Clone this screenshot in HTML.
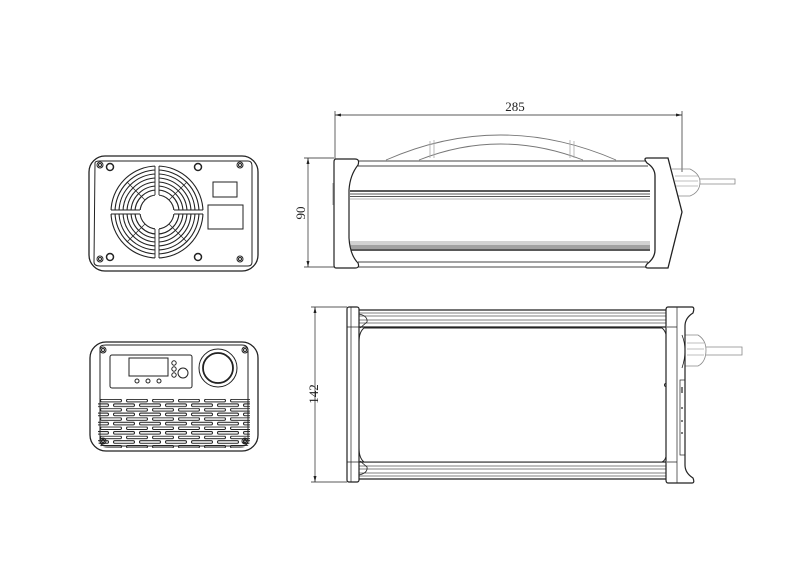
<!DOCTYPE html>
<html><head><meta charset="utf-8"><style>
html,body{margin:0;padding:0;background:#fff;}
svg{display:block;}
text{font-family:"Liberation Serif",serif;fill:#222;}
</style></head><body>
<svg width="800" height="566" viewBox="0 0 800 566" xmlns="http://www.w3.org/2000/svg">
<defs>
<pattern id="slots" x="100" y="399" width="26" height="9.2" patternUnits="userSpaceOnUse">
<rect x="0.5" y="0.3" width="21" height="2.6" rx="1.3" fill="none" stroke="#222" stroke-width="1"/>
<rect x="13.5" y="4.9" width="21" height="2.6" rx="1.3" fill="none" stroke="#222" stroke-width="1"/>
<rect x="-12.5" y="4.9" width="21" height="2.6" rx="1.3" fill="none" stroke="#222" stroke-width="1"/>
</pattern>
<clipPath id="slotclip"><path d="M98 398 H250 V440 Q250 448 240 448 H108 Q98 448 98 440 Z"/></clipPath>
</defs>
<g fill="none" stroke="#222" stroke-width="1">

<!-- ===== Rear view (fan) ===== -->
<rect x="89" y="156" width="169" height="115" rx="16" stroke-width="1.3"/>
<path d="M95 163 Q95 161 100 161 L248 161 Q252 161 252 166 L252 262 Q252 266 248 266 L100 266 Q94 266 94 262 Z"/>
<g stroke-width="1.1">
<circle cx="157" cy="212" r="46"/><circle cx="157" cy="212" r="42"/><circle cx="157" cy="212" r="38"/>
<circle cx="157" cy="212" r="34"/><circle cx="157" cy="212" r="30"/><circle cx="157" cy="212" r="26"/>
<circle cx="157" cy="212" r="22"/><circle cx="157" cy="212" r="17"/>
</g>
<rect x="155" y="164" width="4" height="96" fill="#fff" stroke="none"/>
<rect x="109" y="210" width="96" height="4" fill="#fff" stroke="none"/>
<path d="M155 166 V195 M159 166 V195 M155 229 V258 M159 229 V258 M111 210 H140 M111 214 H140 M174 210 H203 M174 214 H203" stroke-width="0.9"/>
<path d="M127 182 L145 200 M187 182 L169 200 M127 242 L145 224 M187 242 L169 224" stroke-width="0.7"/>
<rect x="213" y="182" width="24" height="15"/>
<rect x="208" y="205" width="35" height="24"/>
<circle cx="110" cy="167" r="3.5" stroke-width="1.5"/><circle cx="198" cy="167" r="3.5" stroke-width="1.5"/>
<circle cx="110" cy="257" r="3.5" stroke-width="1.5"/><circle cx="198" cy="257" r="3.5" stroke-width="1.5"/>
<circle cx="100" cy="165" r="3"/><circle cx="100" cy="165" r="1.5"/>
<circle cx="240" cy="165" r="3"/><circle cx="240" cy="165" r="1.5"/>
<circle cx="100" cy="259" r="3"/><circle cx="100" cy="259" r="1.5"/>
<circle cx="240" cy="259" r="3"/><circle cx="240" cy="259" r="1.5"/>

<!-- ===== Front view (panel) ===== -->
<rect x="90" y="342" width="168" height="109" rx="16" stroke-width="1.3"/>
<path d="M100 348 Q100 345 106 345 L242 345 Q248 345 248 351 L248 440 Q248 446 242 446 L106 446 Q100 446 100 440 Z"/>
<rect x="110" y="355" width="82" height="33" rx="2"/>
<rect x="129" y="358" width="39" height="18"/>
<circle cx="137" cy="381" r="2"/><circle cx="148" cy="381" r="2"/><circle cx="159" cy="381" r="2"/>
<circle cx="174" cy="363" r="2.2"/><circle cx="174" cy="369" r="2.2"/><circle cx="174" cy="375" r="2.2"/>
<circle cx="183" cy="373" r="5"/>
<circle cx="218" cy="368" r="19"/><circle cx="218" cy="368" r="15" stroke-width="1.8"/>
<circle cx="103" cy="350" r="3"/><circle cx="103" cy="350" r="1.5"/>
<circle cx="245" cy="350" r="3"/><circle cx="245" cy="350" r="1.5"/>
<circle cx="103" cy="441" r="3"/><circle cx="103" cy="441" r="1.5"/>
<circle cx="245" cy="441" r="3"/><circle cx="245" cy="441" r="1.5"/>
<rect x="95" y="398" width="160" height="52" fill="url(#slots)" stroke="none" clip-path="url(#slotclip)"/>

<!-- ===== Side view ===== -->
<path d="M335 115 H682 M335 111 V160 M682 111 V172" stroke-width="0.7"/>
<path d="M335 115 l6 -1.5 v3 z M682 115 l-6 -1.5 v3 z" fill="#222" stroke="none"/>
<path d="M308 158 V267 M304 158 H334 M304 267 H334" stroke-width="0.7"/>
<path d="M308 158 l-1.5 6 h3 z M308 267 l-1.5 -6 h3 z" fill="#222" stroke="none"/>
<path d="M386 160 Q500 110 616 160 M419 160 Q500 128 583 160" stroke="#777" stroke-width="0.9"/>
<path d="M430 141 V158 M434 140 V158 M570 140 V158 M574 141 V158" stroke="#aaa" stroke-width="0.8"/>
<path d="M358 161 H648 M358 166 H648 M358 262 H648 M358 267 H648" stroke-width="1" stroke="#444"/>
<path d="M350 191 H650" stroke-width="1.6"/>
<path d="M350 194 H650 M350 196.5 H650" stroke="#555" stroke-width="0.9"/>
<path d="M350 199 H650" stroke="#999" stroke-width="0.7"/>
<path d="M350 242 H650 M350 244 H650" stroke="#888" stroke-width="0.8"/>
<path d="M350 246 H650 M350 248 H650" stroke="#444" stroke-width="0.9"/>
<path d="M350 250 H650" stroke-width="1.6"/>
<path d="M336 159 H355 Q360 159 358 165 Q350 175 349 190 V238 Q350 255 358 263 Q360 268 355 268 H336 Q334 268 334 265 V162 Q334 159 336 159 Z" fill="#fff" stroke-width="1.2"/>
<path d="M333 183 V205" stroke="#999"/>
<path d="M672 169 H690 Q700 174 700 182 Q700 192 690 196 H672" stroke="#888" stroke-width="0.8"/>
<path d="M675 176 H698 M675 181 H698 M675 186 H698" stroke="#aaa" stroke-width="0.8"/>
<path d="M700 179 H735 V184 H700" stroke="#888" stroke-width="0.8"/>
<path d="M647 158 H668 L682 212 L668 268 H648 Q644 268 647 264 Q655 258 655 250 V176 Q655 168 647 163 Q643 158 647 158 Z" fill="#fff" stroke-width="1.3"/>

<!-- ===== Top view ===== -->
<path d="M315 307 V482 M311 307 H347 M311 482 H347" stroke-width="0.7"/>
<path d="M315 307 l-1.5 6 h3 z M315 482 l-1.5 -6 h3 z" fill="#222" stroke="none"/>
<path d="M357 310 H667 M357 327 H667 M357 462 H667 M357 479 H667" stroke-width="1.2"/>
<path d="M357 313 H667 M357 316 H667 M357 320 H667 M357 323 H667 M357 466 H667 M357 469 H667 M357 473 H667 M357 476 H667" stroke="#555" stroke-width="0.7"/>
<path d="M364 328 H662 Q667 332 667 342 V448 Q667 460 662 462 H364 Q359 458 359 448 V342 Q359 332 364 328 Z" fill="#fff" stroke-width="1"/>
<circle cx="666" cy="385" r="1.5"/>
<rect x="347" y="307" width="12" height="175" rx="2" fill="#fff" stroke-width="1.2"/>
<path d="M351 307 V482 M347 327 H359 M347 462 H359" stroke-width="0.7"/>
<path d="M359 314 Q368 316 367 322 L360 328 M359 475 Q368 473 367 467 L360 461" stroke-width="0.8"/>
<path d="M685 335 H698 Q706 340 706 350 Q706 362 698 366 H685" stroke="#888" stroke-width="0.8"/>
<path d="M687 343 H704 M687 349 H704 M687 355 H704" stroke="#aaa" stroke-width="0.8"/>
<path d="M706 347 H742 V355 H706" stroke="#888" stroke-width="0.8"/>
<path d="M668 307 H692 Q695 307 693 313 Q685 318 685 326 V465 Q685 473 693 478 Q695 483 692 483 H668 Q666 483 666 480 V310 Q666 307 668 307 Z" fill="#fff" stroke-width="1.2"/>
<path d="M677 307 V483 M667 327 H677 M667 462 H677" stroke-width="0.7"/>
<path d="M682 335 Q688 350 682 368" stroke-width="0.8"/>
<rect x="680" y="380" width="5" height="75" stroke-width="0.7"/>
<path d="M682 387 V393 M682 407 V409 M682 420 V422 M682 432 V434" stroke-width="1.2"/>
</g>
<text x="515" y="111" font-size="13" text-anchor="middle">285</text>
<text transform="translate(305,213) rotate(-90)" font-size="13" text-anchor="middle">90</text>
<text transform="translate(318,394) rotate(-90)" font-size="13" text-anchor="middle">142</text>
</svg>
</body></html>
